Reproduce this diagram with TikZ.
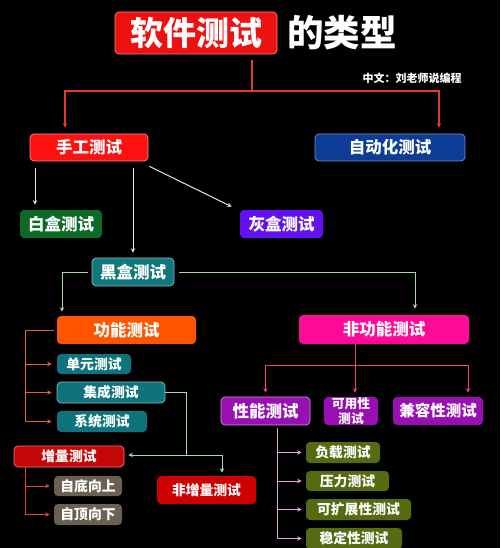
\documentclass[tikz,border=0pt]{standalone}
\usepackage{fontspec}
\setmainfont{Noto Sans CJK SC}
\usetikzlibrary{arrows.meta}
\newcommand{\fs}[1]{\fontsize{#1}{#1}\selectfont\bfseries}
\tikzset{
  box/.style={rounded corners=4pt, text=white, inner sep=0pt, line width=0.7pt, align=center},
  big/.style={font=\fs{16.5}},
  small/.style={font=\fs{13.8}},
  conn/.style={line width=1pt},
  tip/.style={-{Stealth[length=4.5pt,width=4.5pt]}},
}
\definecolor{cTitle}{HTML}{EE1111}
\definecolor{cRed}{HTML}{FF1111}
\definecolor{cBlue}{HTML}{0C3C96}
\definecolor{cGreen}{HTML}{0B6B26}
\definecolor{cViolet}{HTML}{6410F5}
\definecolor{cTeal}{HTML}{11787C}
\definecolor{cOrange}{HTML}{FF5500}
\definecolor{cMag}{HTML}{FF0A96}
\definecolor{cTeal2}{HTML}{0E737C}
\definecolor{cDRed}{HTML}{C40808}
\definecolor{cRed2}{HTML}{CC0000}
\definecolor{cGray}{HTML}{6A5F51}
\definecolor{cPurp}{HTML}{9810B4}
\definecolor{cOlive}{HTML}{566A12}
\definecolor{aRed}{HTML}{E83A2A}
\definecolor{aWhite}{HTML}{E8E8DC}
\definecolor{aGreen}{HTML}{A8D8A0}
\definecolor{aOrange}{HTML}{E8602A}
\definecolor{aTeal}{HTML}{A0D8C0}
\definecolor{aRO}{HTML}{E04828}
\definecolor{aPink}{HTML}{FF3A8A}
\definecolor{aLPink}{HTML}{E8A0E0}
\begin{document}
\begin{tikzpicture}[x=1pt,y=-1pt]
\fill[black] (0,0) rectangle (500,548);
\useasboundingbox (0,0) rectangle (500,548);

% title
\node[box, fill=cTitle, draw=red!50!white, minimum width=162pt, minimum height=42pt, font=\fs{33}] (t) at (196,33) {软件测试};
\node[text=white, inner sep=0pt, font=\fs{36.5}] (tt) at (342,33) {的类型};
\node[text=white, inner sep=0pt, font=\fs{11}] (au) at (412,78) {中文：刘老师说编程};

% level 1
\node[box, big, fill=cRed, draw=red!45!white, minimum width=118pt, minimum height=27pt] (sg) at (89,147.5) {手工测试};
\node[box, big, fill=cBlue, draw=cBlue!55!white, minimum width=150pt, minimum height=27pt] (zd) at (390,147.5) {自动化测试};

% level 2
\node[box, big, fill=cGreen, minimum width=82pt, minimum height=28pt] (bh) at (61,224) {白盒测试};
\node[box, big, fill=cViolet, minimum width=83pt, minimum height=28pt] (hh) at (281.5,224) {灰盒测试};
\node[box, big, fill=cTeal, draw=cTeal!50!white, minimum width=82pt, minimum height=28pt] (hei) at (133,272) {黑盒测试};

% level 3
\node[box, big, fill=cOrange, minimum width=139pt, minimum height=28pt] (gn) at (126.5,330) {功能测试};
\node[box, big, fill=cMag, minimum width=170pt, minimum height=29pt] (fgn) at (384,329.5) {非功能测试};

% functional children
\node[box, small, fill=cTeal2, minimum width=74pt, minimum height=20pt] (dy) at (94,364) {单元测试};
\node[box, small, fill=cTeal2, draw=cTeal2!50!white, minimum width=108pt, minimum height=21pt] (jc) at (111,392.5) {集成测试};
\node[box, small, fill=cTeal2, minimum width=90pt, minimum height=21pt] (xt) at (102,421.5) {系统测试};
\node[box, small, fill=cDRed, draw=red!55!white, minimum width=110pt, minimum height=21pt] (zl) at (69,456.5) {增量测试};
\node[box, small, fill=cRed2, minimum width=99pt, minimum height=28pt] (fzl) at (206.5,490) {非增量测试};
\node[box, small, fill=cGray, minimum width=68pt, minimum height=20pt] (zd1) at (88,486) {自底向上};
\node[box, small, fill=cGray, minimum width=68pt, minimum height=21pt] (zd2) at (88,514.5) {自顶向下};

% non-functional children
\node[box, big, fill=cPurp, draw=cPurp!45!white, minimum width=89pt, minimum height=28pt] (xn) at (265.5,411) {性能测试};
\node[box, fill=cPurp, minimum width=54pt, minimum height=28pt, font={\fontsize{12.8}{13.5}\selectfont\bfseries}] (ky) at (351,411) {可用性\\[1pt]测试};
\node[box, fill=cPurp, minimum width=90pt, minimum height=28pt, font=\fs{15.5}] (jr) at (438,411) {兼容性测试};
\node[box, small, fill=cOlive, minimum width=74pt, minimum height=21pt] (fz) at (343,452.5) {负载测试};
\node[box, small, fill=cOlive, minimum width=83pt, minimum height=20pt] (yl) at (347.5,481) {压力测试};
\node[box, small, fill=cOlive, minimum width=105pt, minimum height=21pt] (kk) at (358.5,509.5) {可扩展性测试};
\node[box, small, fill=cOlive, minimum width=96pt, minimum height=21pt] (wd) at (354,538.5) {稳定性测试};

% connectors: title
\coordinate (rj) at (252,91);
\draw[conn, aRed, line width=1.2pt] ([xshift=56pt,yshift=-6pt]t.south) -- (rj);
\draw[conn, aRed, line width=1.2pt, tip] (rj) -| ([xshift=-24pt,yshift=6pt]sg.north);
\draw[conn, aRed, line width=1.2pt, tip] (rj) -| ([xshift=49pt,yshift=6pt]zd.north);

% from manual
\draw[conn, aWhite, tip] ([xshift=-54pt,yshift=-7pt]sg.south) -- ([xshift=-26pt,yshift=5pt]bh.north);
\draw[conn, aWhite, tip] ([xshift=44pt,yshift=-7pt]sg.south) -- ([yshift=5pt]hei.north);
\draw[conn, aWhite, tip] ([xshift=1pt,yshift=-5pt]sg.south east) -- ([xshift=-8pt,yshift=3pt]hh.north west);

% from black box
\draw[conn, aGreen, tip] ([xshift=-4pt]hei.west) -| ([xshift=-64.5pt,yshift=4pt]gn.north);
\draw[conn, aGreen, tip] ([xshift=5pt]hei.east) -| ([xshift=31pt,yshift=6pt]fgn.north);

% from functional
\draw[conn, aOrange] ([xshift=-3pt]gn.west) -| ([xshift=-31pt]xt.west);
\draw[conn, aOrange, tip] ([xshift=-31pt]dy.west) -- ([xshift=-5pt]dy.west);
\draw[conn, aOrange, tip] ([xshift=-31pt]jc.west) -- ([xshift=-5pt]jc.west);
\draw[conn, aOrange, tip] ([xshift=-31pt]xt.west) -- ([xshift=-5pt]xt.west);

% from integration
\coordinate (cj) at (186,455);
\draw[conn, aTeal] (jc.east) -| (cj);
\draw[conn, aTeal, tip] (cj) -- ([xshift=4pt,yshift=1.5pt]zl.east);
\draw[conn, aTeal, tip] (cj) -| ([xshift=15.5pt,yshift=3pt]fzl.north);

% from incremental
\draw[conn, aRO, tip] ([xshift=-44pt]zl.south) |- ([xshift=-4pt]zd2.west);
\draw[conn, aRO, tip] ([xshift=-29pt]zd1.west) -- ([xshift=-4pt]zd1.west);

% from non-functional
\coordinate (pj) at (355,365);
\draw[conn, aPink] ([xshift=-29pt]fgn.south) -- (pj);
\draw[conn, aPink, tip] (pj) -| ([yshift=4pt]xn.north);
\draw[conn, aPink, tip] (pj) -- ([xshift=4pt,yshift=4pt]ky.north);
\draw[conn, aPink, tip] (pj) -| ([xshift=30pt,yshift=4pt]jr.north);

% from performance
\draw[conn, aLPink, tip] ([xshift=11.5pt,yshift=-3pt]xn.south) |- ([xshift=-4pt]wd.west);
\draw[conn, aLPink, tip] ([xshift=-29pt]fz.west) -- ([xshift=-4pt]fz.west);
\draw[conn, aLPink, tip] ([xshift=-29pt]yl.west) -- ([xshift=-4pt]yl.west);
\draw[conn, aLPink, tip] ([xshift=-29pt]kk.west) -- ([xshift=-4pt]kk.west);
\end{tikzpicture}
\end{document}
